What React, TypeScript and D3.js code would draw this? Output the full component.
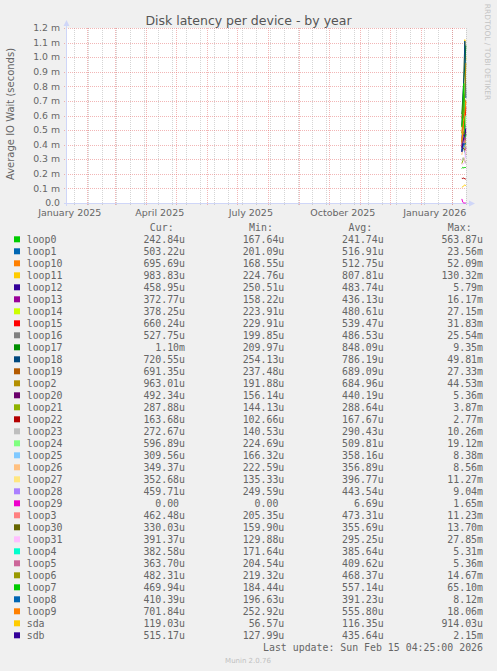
import React from 'react';
import * as d3 from 'd3';

const W = 497;
const H = 671;

// graph window: 400 days ending at the last update
const xStart = new Date(2025, 0, 11, 4, 25);
const xEnd = new Date(2026, 1, 15, 4, 25);

// the quarters that get a label (label sits in the middle of the month)
const labelMonths = [
  new Date(2025, 0, 1),
  new Date(2025, 3, 1),
  new Date(2025, 6, 1),
  new Date(2025, 9, 1),
  new Date(2026, 0, 1),
];

const yTickValues = [0, 0.1, 0.2, 0.3, 0.4, 0.5, 0.6, 0.7, 0.8, 0.9, 1.0, 1.1, 1.2]; // ms

// daily samples, data only exists for the last days
const dayDates = [
  new Date(2026, 1, 11),
  new Date(2026, 1, 12),
  new Date(2026, 1, 13),
  new Date(2026, 1, 14),
  new Date(2026, 1, 15),
];

const seriesNames = [
  'loop0', 'loop1', 'loop10', 'loop11', 'loop12', 'loop13', 'loop14', 'loop15', 'loop16',
  'loop17', 'loop18', 'loop19', 'loop2', 'loop20', 'loop21', 'loop22', 'loop23', 'loop24',
  'loop25', 'loop26', 'loop27', 'loop28', 'loop29', 'loop3', 'loop30', 'loop31', 'loop4',
  'loop5', 'loop6', 'loop7', 'loop8', 'loop9', 'sda', 'sdb',
];

const seriesColors = [
  '#00CC00', '#0066B3', '#FF8000', '#FFCC00', '#330099', '#990099', '#CCFF00', '#FF0000', '#808080',
  '#008F00', '#00487D', '#B35A00', '#B38F00', '#6B006B', '#8FB300', '#B30000', '#BEBEBE', '#80FF80',
  '#80C9FF', '#FFC080', '#FFE680', '#AA80FF', '#EE00CC', '#FF8080', '#666600', '#FFBFFF', '#00FFCC',
  '#CC6699', '#999900', '#00CC00', '#0066B3', '#FF8000', '#FFCC00', '#330099',
];

// microseconds, same order as seriesNames
const seriesValues = [
  [236, 245, 240, 244, 243], // loop0
  [440, 520, 610, 500, 500], // loop1
  [380, 450, 520, 610, 690], // loop10
  [520, 680, 820, 1120, 980], // loop11
  [360, 470, 580, 520, 460], // loop12
  [410, 490, 520, 440, 370], // loop13
  [470, 550, 580, 430, 380], // loop14
  [420, 490, 560, 530, 660], // loop15
  [390, 510, 470, 540, 520], // loop16
  [610, 720, 850, 940, 1080], // loop17
  [530, 690, 860, 1110, 720], // loop18
  [580, 640, 750, 710, 690], // loop19
  [480, 550, 680, 740, 960], // loop2
  [380, 430, 470, 430, 490], // loop20
  [270, 290, 310, 280, 290], // loop21
  [170, 168, 172, 165, 164], // loop22
  [290, 310, 300, 290, 270], // loop23
  [430, 480, 510, 530, 600], // loop24
  [370, 390, 360, 350, 310], // loop25
  [330, 370, 380, 360, 350], // loop26
  [410, 430, 390, 400, 350], // loop27
  [410, 440, 460, 450, 460], // loop28
  [28, 5, 0, 0, 0], // loop29
  [430, 490, 510, 470, 460], // loop3
  [360, 380, 370, 370, 330], // loop30
  [260, 270, 270, 280, 390], // loop31
  [360, 390, 410, 380, 380], // loop4
  [390, 440, 460, 390, 360], // loop5
  [420, 470, 490, 480, 480], // loop6
  [520, 600, 820, 450, 470], // loop7
  [350, 380, 410, 400, 410], // loop8
  [410, 490, 560, 620, 700], // loop9
  [108, 112, 118, 124, 119], // sda
  [350, 410, 450, 470, 510], // sdb
];

const curValues = [
  '242.84u', '503.22u', '695.69u', '983.83u', '458.95u', '372.77u', '378.25u', '660.24u', '527.75u',
  '1.10m', '720.55u', '691.35u', '963.01u', '492.34u', '287.88u', '163.68u', '272.67u', '596.89u',
  '309.56u', '349.37u', '352.68u', '459.71u', '0.00', '462.48u', '330.03u', '391.37u', '382.58u',
  '363.70u', '482.31u', '469.94u', '410.39u', '701.84u', '119.03u', '515.17u',
];
const minValues = [
  '167.64u', '201.09u', '168.55u', '224.76u', '250.51u', '158.22u', '223.91u', '229.91u', '199.85u',
  '209.97u', '254.13u', '237.48u', '191.88u', '156.14u', '144.13u', '102.66u', '140.53u', '224.69u',
  '166.32u', '222.59u', '135.33u', '249.59u', '0.00', '205.35u', '159.90u', '129.88u', '171.64u',
  '204.54u', '219.32u', '184.44u', '196.63u', '252.92u', '56.57u', '127.99u',
];
const avgValues = [
  '241.74u', '516.91u', '512.75u', '807.81u', '483.74u', '436.13u', '480.61u', '539.47u', '486.53u',
  '848.09u', '786.19u', '689.09u', '684.96u', '440.19u', '288.64u', '167.67u', '290.43u', '509.81u',
  '358.16u', '356.89u', '396.77u', '443.54u', '6.69u', '473.31u', '355.69u', '295.25u', '385.64u',
  '409.62u', '468.37u', '557.14u', '391.23u', '555.80u', '116.35u', '435.64u',
];
const maxValues = [
  '563.87u', '23.56m', '52.09m', '130.32m', '5.79m', '16.17m', '27.15m', '31.83m', '25.54m',
  '9.35m', '49.81m', '27.33m', '44.53m', '5.36m', '3.87m', '2.77m', '10.26m', '19.12m',
  '8.38m', '8.56m', '11.27m', '9.04m', '1.65m', '11.23m', '13.70m', '27.85m', '5.31m',
  '5.36m', '14.67m', '65.10m', '8.12m', '18.06m', '914.03u', '2.15m',
];

const FONT = 'DejaVu Sans, Verdana, sans-serif';
const MONO = 'DejaVu Sans Mono, monospace';
const TEXT = '#666666';
const AXIS = '#CFD6F8';
const MGRID = 'rgba(230,110,110,0.5)';
const GRID = 'rgba(150,150,150,0.4)';

export default function App() {
  const plot = { left: 66, right: 466, top: 28, bottom: 203 };

  const x = d3.scaleTime().domain([xStart, xEnd]).range([plot.left, plot.right]);
  const y = d3.scaleLinear().domain([0, 1.2e-3]).range([plot.bottom, plot.top]);
  const px = (v: number) => Math.round(v) + 0.5;

  const majorTicks = d3.timeMonth.range(xStart, xEnd);
  const minorTicks = d3.timeWeek.range(xStart, xEnd).filter((_, i) => i % 2 === 1);
  const fmtMonth = d3.timeFormat('%B %Y');

  const line = d3
    .line<number>()
    .x((_, i) => x(dayDates[i]))
    .y((v) => y(v * 1e-6));

  const legendTop = 239.3;
  const rowH = 12;
  const charW = 5.96;
  const colRight = [185, 284.3, 383.7, 483];
  const headers = ['Cur:', 'Min:', 'Avg:', 'Max:'];
  const columns = [curValues, minValues, avgValues, maxValues];

  // values without unit get a trailing blank, like rrdtool does
  const valueX = (col: number, v: string) =>
    /[a-z]$/i.test(v) ? colRight[col] : colRight[col] - charW;

  return (
    <svg
      width={W}
      height={H}
      style={{ position: 'absolute', left: 0, top: 0, display: 'block' }}
    >
      <rect x={0} y={0} width={W} height={H} fill="#F0F0F0" />
      <rect
        x={plot.left}
        y={plot.top}
        width={plot.right - plot.left}
        height={plot.bottom - plot.top}
        fill="#FFFFFF"
      />

      {/* title */}
      <text
        x={248.5}
        y={24.5}
        textAnchor="middle"
        fontFamily={FONT}
        fontSize={12.5}
        fill="#555555"
      >
        Disk latency per device - by year
      </text>

      {/* minor grid */}
      {minorTicks.map((d, i) => (
        <line
          key={'mn' + i}
          x1={px(x(d))}
          x2={px(x(d))}
          y1={plot.top}
          y2={plot.bottom + 2}
          stroke={GRID}
          strokeDasharray="1,1"
        />
      ))}

      {/* major grid */}
      {majorTicks.map((d, i) => (
        <line
          key={'mj' + i}
          x1={px(x(d))}
          x2={px(x(d))}
          y1={plot.top}
          y2={plot.bottom + 3}
          stroke={MGRID}
          strokeDasharray="1,1"
        />
      ))}
      {yTickValues.map((v, i) => (
        <line
          key={'hy' + i}
          x1={plot.left - 2}
          x2={plot.right}
          y1={px(y(v * 1e-3))}
          y2={px(y(v * 1e-3))}
          stroke={MGRID}
          strokeDasharray="1,1"
        />
      ))}

      {/* axes */}
      <line
        x1={plot.left + 0.5}
        x2={plot.left + 0.5}
        y1={plot.bottom + 3}
        y2={plot.top - 5}
        stroke={AXIS}
      />
      <path
        d={`M${plot.left - 2.5},${plot.top - 2} L${plot.left + 0.5},${plot.top - 8} L${plot.left + 3.5},${plot.top - 2} Z`}
        fill={AXIS}
      />
      <line
        x1={plot.left - 2}
        x2={plot.right + 5}
        y1={plot.bottom + 0.5}
        y2={plot.bottom + 0.5}
        stroke={AXIS}
      />
      <path
        d={`M${plot.right + 3},${plot.bottom - 2.5} L${plot.right + 9},${plot.bottom + 0.5} L${plot.right + 3},${plot.bottom + 3.5} Z`}
        fill={AXIS}
      />

      {/* y tick labels */}
      {yTickValues.map((v, i) => (
        <text
          key={'yl' + i}
          x={60}
          y={y(v * 1e-3) + 3.2}
          textAnchor="end"
          fontFamily={FONT}
          fontSize={9.3}
          fill={TEXT}
        >
          {v === 0 ? '0.0' : `${v.toFixed(1)} m`}
        </text>
      ))}

      {/* x tick labels */}
      {labelMonths.map((d, i) => (
        <text
          key={'xl' + i}
          x={x(d3.timeDay.offset(d, 14))}
          y={216}
          textAnchor="middle"
          fontFamily={FONT}
          fontSize={9.5}
          fill={TEXT}
        >
          {fmtMonth(d)}
        </text>
      ))}

      {/* y axis title */}
      <text
        transform="translate(14,114) rotate(-90)"
        textAnchor="middle"
        fontFamily={FONT}
        fontSize={10}
        fill={TEXT}
      >
        Average IO Wait (seconds)
      </text>

      {/* side credit */}
      <text
        transform="translate(484.5,52) rotate(90)"
        textAnchor="middle"
        fontFamily={FONT}
        fontSize={7.5}
        fill="#C4C4C4"
      >
        RRDTOOL / TOBI OETIKER
      </text>

      {/* data */}
      <g>
        {seriesValues.map((vals, i) => (
          <path
            key={'s' + i}
            d={line(vals) || ''}
            fill="none"
            stroke={seriesColors[i]}
            strokeWidth={1}
          />
        ))}
      </g>

      {/* legend */}
      {headers.map((h, c) => (
        <text
          key={'h' + c}
          x={colRight[c] - 2 * charW + 0.5}
          y={legendTop - rowH + 3.6}
          textAnchor="end"
          fontFamily={MONO}
          fontSize={9.9}
          fill={TEXT}
        >
          {h}
        </text>
      ))}
      {seriesNames.map((name, i) => {
        const cy = legendTop + i * rowH;
        return (
          <g key={'lg' + i}>
            <rect x={14} y={cy - 3} width={6} height={6} fill={seriesColors[i]} />
            <text x={26.7} y={cy + 3.6} fontFamily={MONO} fontSize={9.9} fill={TEXT}>
              {name}
            </text>
            {columns.map((col, c) => (
              <text
                key={c}
                x={valueX(c, col[i])}
                y={cy + 3.6}
                textAnchor="end"
                fontFamily={MONO}
                fontSize={9.9}
                fill={TEXT}
              >
                {col[i]}
              </text>
            ))}
          </g>
        );
      })}

      <text
        x={483}
        y={647.7 + 3.6}
        textAnchor="end"
        fontFamily={MONO}
        fontSize={9.9}
        fill={TEXT}
      >
        Last update: Sun Feb 15 04:25:00 2026
      </text>
      <text
        x={248}
        y={662.5}
        textAnchor="middle"
        fontFamily={FONT}
        fontSize={7}
        fill="#C0C0C0"
      >
        Munin 2.0.76
      </text>
    </svg>
  );
}
